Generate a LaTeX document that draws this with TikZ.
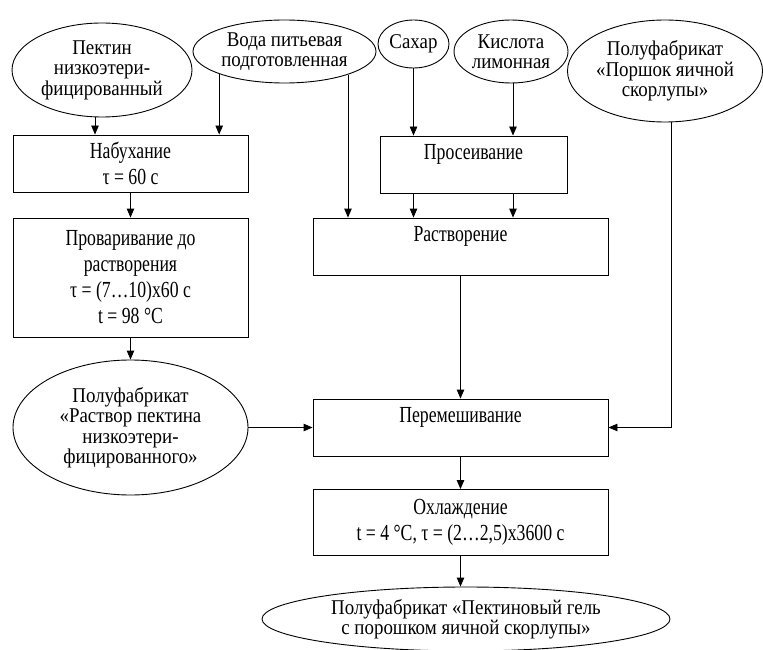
\documentclass[tikz,border=0pt]{standalone}
\usepackage{fontspec}
\setmainfont{Liberation Serif}
\newfontfamily\boxfont{Liberation Serif}[FakeStretch=0.77]
\newfontfamily\ellfont{Liberation Serif}[FakeStretch=0.9]
\usetikzlibrary{shapes.geometric,arrows.meta}
\begin{document}
\begin{tikzpicture}[x=1pt,y=-1pt,
  every node/.style={line width=0.9pt},
  procbox/.style={draw,rectangle,inner sep=0pt,align=center,
    font=\boxfont\fontsize{23}{26}\selectfont},
  oval/.style={draw,ellipse,inner sep=0pt,align=center,
    font=\ellfont\fontsize{21}{20.5}\selectfont},
  arr/.style={line width=0.9pt,-{Triangle[length=9pt,width=7.5pt]}}]
\useasboundingbox (0,0) rectangle (763,650);

% input ovals
\node[oval,minimum width=180pt,minimum height=94pt] (pek) at (102,70) {Пектин\\низкоэтери-\\фицированный};
\node[oval,minimum width=183pt,minimum height=63pt] (voda) at (284.5,51.5) {Вода питьевая\\подготовленная};
\node[oval,minimum width=71pt,minimum height=48pt] (sah) at (413.5,44) {Сахар};
\node[oval,minimum width=114pt,minimum height=63pt] (kis) at (511,51.5) {Кислота\\лимонная};
\node[oval,minimum width=194pt,minimum height=102pt] (por) at (665,71) {Полуфабрикат\\«Поршок яичной\\скорлупы»};

% process boxes
\node[procbox,minimum width=235pt,minimum height=57pt] (nab) at (130.5,163.5) {Набухание\\τ = 60 с};
\node[procbox,minimum width=235pt,minimum height=119pt] (prov) at (130.5,277.5) {Проваривание до\\растворения\\τ = (7…10)х60 с\\t = 98 °C};
\node[oval,minimum width=235pt,minimum height=135pt] (rp) at (130.5,427.5) {Полуфабрикат\\«Раствор пектина\\низкоэтери-\\фицированного»};
\node[procbox,minimum width=187pt,minimum height=57pt] (pros) at (473.5,164.5) {Просеивание\\~};
\node[procbox,minimum width=295pt,minimum height=57pt] (rastv) at (460.5,246.5) {Растворение\\~};
\node[procbox,minimum width=295pt,minimum height=57pt] (perem) at (460.5,427.5) {Перемешивание\\~};
\node[procbox,minimum width=295pt,minimum height=66pt] (ohl) at (460.5,522.5) {Охлаждение\\t = 4 °C, τ = (2…2,5)х3600 с};
\node[oval,minimum width=408pt,minimum height=64pt] (gel) at (466,619) {Полуфабрикат «Пектиновый гель\\с порошком яичной скорлупы»};

% connectors
\draw[arr] ([xshift=-7pt]pek.south) -- ([xshift=-7pt]pek.south |- nab.north);
\draw[arr] (voda.199) -- (voda.199 |- nab.north);
\draw[arr] (voda.340) -- (voda.340 |- rastv.north);
\draw[arr] (sah.south) -- (sah.south |- pros.north);
\draw[arr] ([xshift=2pt]kis.south) -- ([xshift=2pt]kis.south |- pros.north);
\draw[arr] (sah.south |- pros.south) -- (sah.south |- rastv.north);
\draw[arr] ([xshift=2pt]kis.south |- pros.south) -- ([xshift=2pt]kis.south |- rastv.north);
\draw[arr] (nab.south) -- (prov.north);
\draw[arr] (prov.south) -- (rp.north);
\draw[arr] (rp.east) -- (perem.west);
\draw[arr] (rastv.south) -- (perem.north);
\draw[arr] ([xshift=6pt]por.south) |- (perem.east);
\draw[arr] (perem.south) -- (ohl.north);
\draw[arr] (ohl.south) -- (ohl.south |- gel.north);
\end{tikzpicture}
\end{document}
